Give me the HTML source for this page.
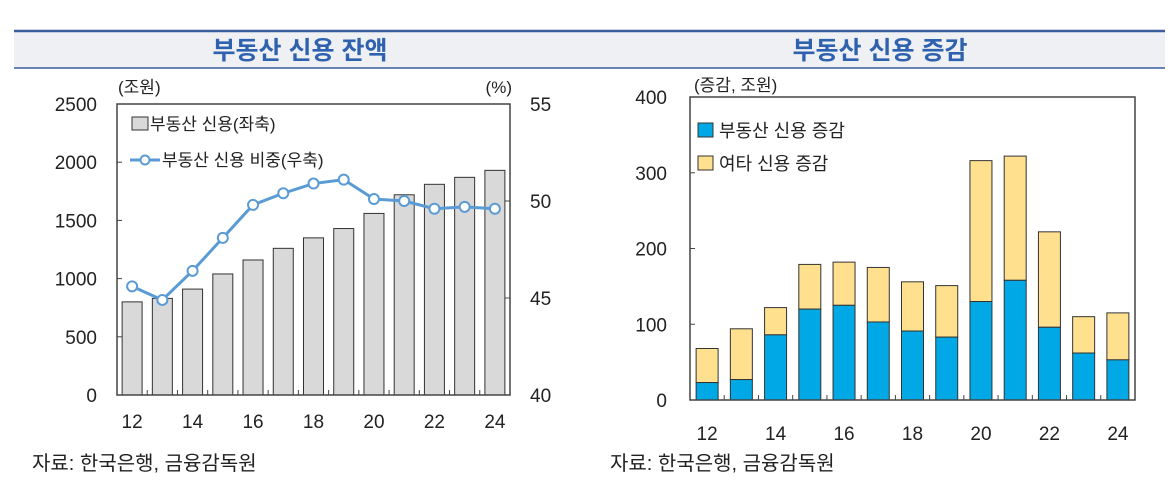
<!DOCTYPE html>
<html><head><meta charset="utf-8">
<style>
body{margin:0;background:#fff;}
svg{display:block;font-family:"Liberation Sans","Noto Sans CJK KR",sans-serif;}
</style></head>
<body>
<svg id="c" width="1175" height="482" viewBox="0 0 1175 482" xmlns="http://www.w3.org/2000/svg">
<rect x="14" y="31" width="1151" height="37" fill="#eef0f4"/>
<line x1="14" y1="31" x2="1165" y2="31" stroke="#3a5e9c" stroke-width="2.5"/>
<line x1="14" y1="68" x2="1165" y2="68" stroke="#3a5e9c" stroke-width="1.5"/>
<text x="300" y="59" text-anchor="middle" font-size="25" font-weight="bold" fill="#2f62ae">부동산 신용 잔액</text>
<text x="880" y="59" text-anchor="middle" font-size="25" font-weight="bold" fill="#2f62ae">부동산 신용 증감</text>
<text x="118" y="93" font-size="17" fill="#222">(조원)</text>
<text x="512" y="93" text-anchor="end" font-size="17" fill="#222">(%)</text>
<text x="694" y="91" font-size="17" fill="#222">(증감, 조원)</text>
<text x="32" y="470" font-size="20" fill="#222">자료: 한국은행, 금융감독원</text>
<text x="610" y="470" font-size="20" fill="#222">자료: 한국은행, 금융감독원</text>
<g id="left"></g><g id="right"></g>
</svg>
<script>
const years=["12","13","14","15","16","17","18","19","20","21","22","23","24"];
const credit=[800,830,910,1040,1160,1260,1350,1430,1560,1720,1810,1870,1930];
const share=[45.6,44.9,46.4,48.1,49.8,50.4,50.9,51.1,50.1,50.0,49.6,49.7,49.6];
const leftTicks=[0,500,1000,1500,2000,2500];
const rightTicks=[40,45,50,55];
const reChange=[23,27,86,120,125,103,91,83,130,158,96,62,53];
const otherChange=[45,67,36,59,57,72,65,68,186,164,126,48,62];
const chgTicks=[0,100,200,300,400];
const xLabels=["12","14","16","18","20","22","24"];
const NS="http://www.w3.org/2000/svg";
function mk(p,t,a){const e=document.createElementNS(NS,t);for(const k in a)e.setAttribute(k,a[k]);p.appendChild(e);return e;}
// left chart
const L=document.getElementById('left');
const lx0=117,lx1=510,ly0=395,ly1=104;
const lyS=v=>ly0-(v/2500)*(ly0-ly1);
const ryS=v=>ly0-((v-40)/15)*(ly0-ly1);
const lstep=(lx1-lx0)/years.length;
const lxS=i=>lx0+lstep*(i+0.5);
years.forEach((y,i)=>{
 const b=mk(L,'rect',{x:lxS(i)-10,y:lyS(credit[i]),width:20,height:ly0-lyS(credit[i]),fill:'#d9d9d9',stroke:'#333','stroke-width':1});
 
 
});
const lb=mk(L,'rect',{x:lx0,y:ly1,width:lx1-lx0,height:ly0-ly1,fill:'none',stroke:'#444','stroke-width':1.5});


leftTicks.forEach(v=>{
 mk(L,'line',{x1:lx0,x2:lx0+5,y1:lyS(v),y2:lyS(v),stroke:'#444'});
 const t=mk(L,'text',{x:97,y:lyS(v)+7,'text-anchor':'end','font-size':19,fill:'#222'});t.textContent=v;
 
 
});
rightTicks.forEach(v=>{
 mk(L,'line',{x1:lx1-5,x2:lx1,y1:ryS(v),y2:ryS(v),stroke:'#444'});
 const t=mk(L,'text',{x:530,y:ryS(v)+7,'font-size':19,fill:'#222'});t.textContent=v;
 
 
});
for(let i=1;i<years.length;i++)mk(L,'line',{x1:lx0+lstep*i,x2:lx0+lstep*i,y1:ly0,y2:ly0-5,stroke:'#444'});
years.forEach((y,i)=>{if(xLabels.includes(y)){const t=mk(L,'text',{x:lxS(i),y:428,'text-anchor':'middle','font-size':19,fill:'#222'});t.textContent=y;
 
 }});
const pl=mk(L,'polyline',{points:share.map((v,i)=>lxS(i)+','+ryS(v)).join(' '),fill:'none',stroke:'#5b9bd5','stroke-width':3});


share.forEach((v,i)=>{const c=mk(L,'circle',{cx:lxS(i),cy:ryS(v),r:5,fill:'#fff',stroke:'#5b9bd5','stroke-width':2});
 
 });
const lg1=mk(L,'rect',{x:132,y:117,width:16,height:13,fill:'#d9d9d9',stroke:'#333'});


let t1=mk(L,'text',{x:150,y:130,'font-size':17,fill:'#222'});t1.textContent='부동산 신용(좌축)';


mk(L,'line',{x1:130,x2:160,y1:160,y2:160,stroke:'#5b9bd5','stroke-width':3});
mk(L,'circle',{cx:145,cy:160,r:4.5,fill:'#fff',stroke:'#5b9bd5','stroke-width':2});
let t2=mk(L,'text',{x:162,y:166,'font-size':17,fill:'#222'});t2.textContent='부동산 신용 비중(우축)';


// right chart
const R=document.getElementById('right');
const rx0=690,rx1=1135,ry0=400,ry1=97;
const cyS=v=>ry0-(v/400)*(ry0-ry1);
const rstep=(rx1-rx0)/years.length;
const rxS=i=>rx0+rstep*(i+0.5);
years.forEach((y,i)=>{
 const tot=reChange[i]+otherChange[i];
 const o=mk(R,'rect',{x:rxS(i)-11,y:cyS(tot),width:22,height:cyS(reChange[i])-cyS(tot),fill:'#ffe08f',stroke:'#333','stroke-width':1});
 
 
 const b=mk(R,'rect',{x:rxS(i)-11,y:cyS(reChange[i]),width:22,height:ry0-cyS(reChange[i]),fill:'#00a9e6',stroke:'#333','stroke-width':1});
 
 
});
const rb=mk(R,'rect',{x:rx0,y:ry1,width:rx1-rx0,height:ry0-ry1,fill:'none',stroke:'#444','stroke-width':1.5});


chgTicks.forEach(v=>{
 mk(R,'line',{x1:rx0,x2:rx0+5,y1:cyS(v),y2:cyS(v),stroke:'#444'});
 const t=mk(R,'text',{x:667,y:cyS(v)+7,'text-anchor':'end','font-size':19,fill:'#222'});t.textContent=v;
 
 
});
for(let i=1;i<years.length;i++)mk(R,'line',{x1:rx0+rstep*i,x2:rx0+rstep*i,y1:ry0,y2:ry0-5,stroke:'#444'});
years.forEach((y,i)=>{if(xLabels.includes(y)){const t=mk(R,'text',{x:rxS(i),y:440,'text-anchor':'middle','font-size':19,fill:'#222'});t.textContent=y;
 
 }});
const s1=mk(R,'rect',{x:698,y:123,width:15,height:14,fill:'#00a9e6',stroke:'#333'});


let t3=mk(R,'text',{x:719,y:137,'font-size':18,fill:'#222'});t3.textContent='부동산 신용 증감';


const s2=mk(R,'rect',{x:698,y:156,width:15,height:14,fill:'#ffe08f',stroke:'#333'});


let t4=mk(R,'text',{x:719,y:170,'font-size':18,fill:'#222'});t4.textContent='여타 신용 증감';


</script>
</body></html>
